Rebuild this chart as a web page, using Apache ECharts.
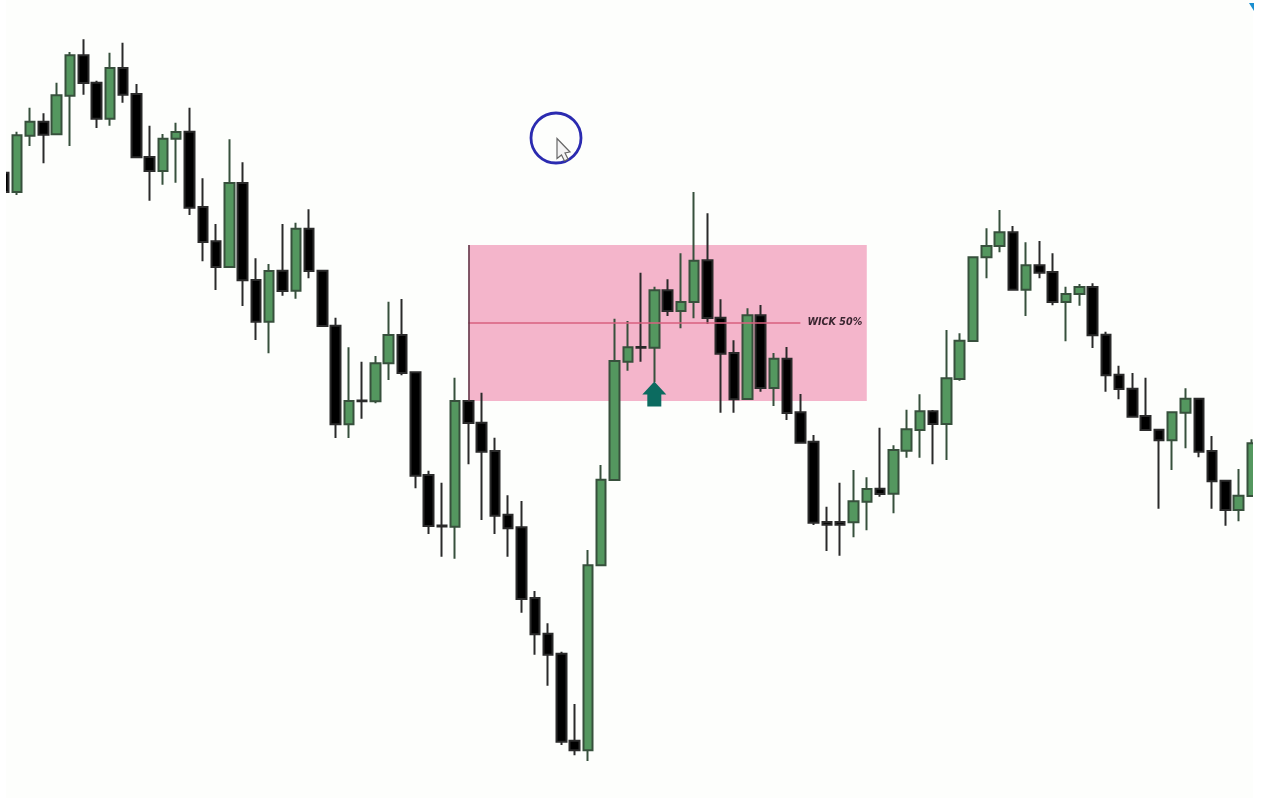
<!DOCTYPE html>
<html>
<head>
<meta charset="utf-8">
<style>
  html, body { margin: 0; padding: 0; background: #ffffff; }
  #chart { width: 1262px; height: 798px; }
</style>
<script src="https://cdn.jsdelivr.net/npm/echarts@6/dist/echarts.min.js"></script>
</head>
<body>
<div id="chart"></div>
<script>
// price units are arbitrary, the source picture has no scale
const opens = [625.3, 606, 662.3, 676.3, 663.7, 702.3, 742.7, 715.3, 679.3, 730, 704, 641, 627, 659.3, 666.3, 591, 556.7, 531, 615, 518, 476.3, 527.3, 507.3, 569.3, 527.3, 472.3, 373.7, 397.5, 396.7, 434.7, 463, 425.7, 323, 272.5, 271.3, 397, 375.3, 347, 283.3, 270.7, 200, 164.3, 144.3, 57.3, 47.7, 232.7, 318, 436.3, 451, 450.3, 507.7, 487, 496, 537.7, 480.3, 445, 399, 482.7, 410, 439.3, 385.7, 356.3, 276, 276, 275.7, 296.3, 309.3, 304.3, 347.3, 368, 386.7, 374, 419, 457, 540.7, 552, 565.7, 508.3, 532.7, 526, 496, 504, 511, 463.3, 423.3, 409.3, 382, 368.3, 357.7, 385.3, 399.3, 347, 317.3, 288, 302]
const closes = [606, 662.7, 676.3, 663.3, 702.7, 742.7, 715, 679.3, 730, 703.3, 640.7, 627, 659.3, 666, 590.3, 556, 531, 615, 517.7, 476.3, 527, 507, 569.3, 527, 472, 373.7, 397, 396.7, 434.7, 463, 425, 322.3, 272, 271.5, 397, 375, 346.3, 282.3, 269.7, 199, 163.7, 143.3, 56.3, 47.7, 232.7, 318.3, 437, 450.7, 450.3, 507.7, 487, 496, 537.3, 480, 444.3, 398.7, 482.7, 410, 439.3, 385, 355.3, 275.3, 273.3, 273.3, 296.7, 309, 304, 348, 368.7, 386.7, 374, 419.7, 457.3, 540.7, 552, 565.7, 508.3, 532.7, 525.3, 496, 504, 511, 462.7, 422.7, 409, 381.3, 368, 357.7, 385.7, 399.3, 346.3, 316.7, 288, 302.3, 354.7]
const lows = [606, 603, 652, 634.7, 663.7, 652, 703.3, 670, 672.3, 695.3, 640.7, 597.3, 613.3, 615.3, 583, 536.7, 508, 531, 492, 458, 444.7, 502.3, 499.3, 519.7, 472, 360, 360, 379.3, 394.7, 418, 422.7, 309.7, 264, 241.3, 239.3, 333.7, 278, 264, 241.3, 185.3, 143.3, 112.3, 53, 42.7, 37, 232.7, 318, 427.3, 436.3, 416, 482, 469.7, 479.7, 474, 385.3, 385.3, 399, 406.3, 392, 378, 355.3, 273, 247, 242.3, 260.7, 267.7, 301.3, 284.7, 340.3, 340.3, 333.7, 338, 417.3, 456, 519.7, 545.7, 508.3, 482, 519.7, 492.7, 456.7, 492.3, 450, 406.3, 398.7, 381.3, 368, 289.3, 328, 349.7, 340.7, 289.3, 272.3, 276.7, 302]
const highs = [625.3, 666.3, 690.3, 684.7, 715.3, 746, 758.7, 717.3, 745.3, 755.3, 714, 672.3, 664, 675.3, 690.3, 619.7, 574, 658.7, 635.7, 539.7, 534, 574, 575.3, 588.7, 527.3, 480.3, 450.7, 436.3, 442, 496.3, 499, 425.7, 327.3, 315.3, 420.3, 397, 405.3, 360.3, 302.7, 297, 207, 174.7, 146.3, 94, 248, 333, 479.3, 477, 525.3, 511.3, 518.7, 544.7, 606, 584.7, 498.7, 457.7, 489.7, 493, 445, 451, 404, 363, 291.3, 315.3, 328, 320.7, 370.3, 352.7, 388.3, 403.7, 388, 468, 464.7, 540.7, 569.7, 588, 572, 555.7, 557, 544.7, 511.3, 514, 514.7, 466.3, 432.3, 425, 420.3, 368.3, 385.7, 409.7, 399.3, 362, 317.3, 329, 358.7]
const categories = opens.map((_, i) => String(i))

// the marked zone
const zoneHigh = 553
const zoneLow = 397
const zoneMid = 475.5
const zoneStart = '35'
const zoneEnd = '65'
const midEnd = '60'
const arrowAt = '49'
const arrowPrice = 404

const chart = echarts.init(document.getElementById('chart'))
chart.setOption({
  animation: false,
  backgroundColor: '#fdfefc',
  grid: { left: 3.6, right: 10.1, top: 0, bottom: 0 },
  xAxis: { type: 'category', data: categories, show: false, boundaryGap: false },
  yAxis: { type: 'value', min: 0, max: 798, show: false },
  series: [{
    type: 'candlestick',
    barWidth: 10,
    clip: false,
    data: opens.map((o, i) => [o, closes[i], lows[i], highs[i]]),
    itemStyle: {
      color: '#54975f',
      color0: '#000000',
      borderColor: '#37503c',
      borderColor0: '#2a2a2a',
      borderWidth: 2
    },
    markArea: {
      silent: true,
      z: 1,
      itemStyle: { color: '#f4b5cb' },
      data: [[
        { xAxis: zoneStart, yAxis: zoneLow },
        { xAxis: zoneEnd, yAxis: zoneHigh }
      ]]
    },
    markLine: {
      silent: true,
      symbol: 'none',
      animation: false,
      data: [
        [
          { xAxis: zoneStart, yAxis: zoneMid, lineStyle: { color: '#d9607f', width: 1.6, type: 'solid' } },
          {
            xAxis: midEnd,
            yAxis: zoneMid,
            label: {
              show: true,
              position: 'end',
              formatter: 'WICK 50%',
              color: '#3a2530',
              fontFamily: 'DejaVu Sans',
              fontStyle: 'italic',
              fontWeight: 'bold',
              fontSize: 9.6,
              distance: 7
            }
          }
        ],
        [
          { xAxis: zoneStart, yAxis: zoneLow, lineStyle: { color: '#5a3040', width: 1.5, type: 'solid' } },
          { xAxis: zoneStart, yAxis: zoneHigh, label: { show: false } }
        ]
      ]
    },
    markPoint: {
      silent: true,
      symbol: 'path://M12 0 L24 13 L19 13 L19 25 L5 25 L5 13 L0 13 Z',
      symbolSize: [24, 25],
      itemStyle: { color: '#0c6b60' },
      label: { show: false },
      data: [{ coord: [arrowAt, arrowPrice] }]
    }
  }],
  graphic: [
    // screenshot margins cut the first and last candle
    { type: 'rect', z: 100, shape: { x: 0, y: 0, width: 6, height: 798 }, style: { fill: '#ffffff' } },
    { type: 'rect', z: 100, shape: { x: 1253, y: 0, width: 9, height: 798 }, style: { fill: '#ffffff' } },
    { type: 'polygon', z: 101, shape: { points: [[1249, 3], [1254, 3], [1254, 11]] }, style: { fill: '#1a8fd0' } },
    // recording cursor
    { type: 'circle', z: 50, shape: { cx: 556, cy: 138, r: 25 }, style: { fill: 'transparent', stroke: '#2b2bb0', lineWidth: 2.8 } },
    {
      type: 'polygon',
      z: 51,
      shape: { points: [[557, 138.5], [570, 152], [565, 153], [568, 159], [564.5, 161], [561.5, 155], [557, 158.5]] },
      style: { fill: '#f4f4f4', stroke: '#666666', lineWidth: 1.2 }
    }
  ]
})
</script>
</body>
</html>
